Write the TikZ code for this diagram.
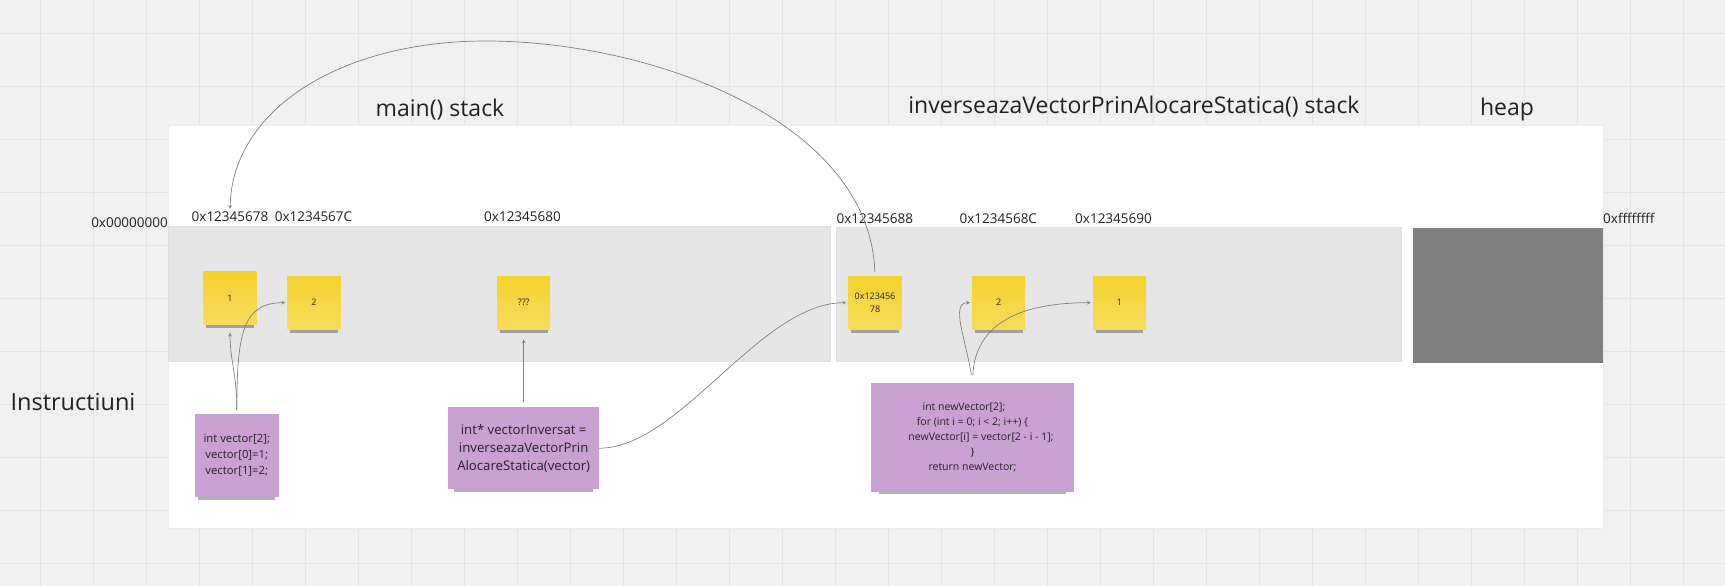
\documentclass[tikz,border=0pt]{standalone}
\usepackage{fontspec}
\setmainfont{Open Sans}
\usetikzlibrary{shadows}
\definecolor{bgc}{HTML}{F1F1F1}
\definecolor{gridc}{HTML}{E4E4E4}
\definecolor{stackc}{HTML}{E6E6E6}
\definecolor{heapc}{HTML}{808080}
\definecolor{yelc}{HTML}{F5D12C}
\definecolor{yelc2}{HTML}{F6DC5E}
\definecolor{purc}{HTML}{C9A2D3}
\definecolor{txtc}{HTML}{222222}
\definecolor{connc}{HTML}{808080}
\begin{document}
\begin{tikzpicture}[x=1pt,y=-1pt,>=stealth]
\tikzstyle{every node}=[text=txtc]
\tikzstyle{sticky}=[rectangle,minimum size=53pt,inner sep=1pt,align=center,top color=yelc,bottom color=yelc2,font=\fontsize{9}{12.5}\selectfont,drop shadow={shadow scale=0.9,shadow yshift=-7pt,shadow xshift=0pt,opacity=0.3,fill=black}]
\tikzstyle{note}=[rectangle,inner sep=2pt,align=center,fill=purc,drop shadow={shadow scale=0.92,shadow yshift=-7pt,shadow xshift=0pt,opacity=0.3,fill=black}]
\tikzstyle{addr}=[inner sep=0pt,font=\fontsize{13.5}{16}\selectfont]
\tikzstyle{title}=[inner sep=0pt,font=\fontsize{23}{28}\selectfont]
\tikzstyle{conn}=[draw=connc,line width=0.7pt]
\useasboundingbox (0,0) rectangle (1725,586);
\fill[bgc] (0,0) rectangle (1725,586);
\foreach \i in {0,...,32} \draw[gridc,line width=1pt] ({40.7+53*\i},0) -- ({40.7+53*\i},586);
\foreach \j in {0,...,10} \draw[gridc,line width=1pt] (0,{33.7+53*\j}) -- (1725,{33.7+53*\j});
\draw[black!8,fill=white] (168,125.5) rectangle (1603,528.5);
\draw[black!12,fill=stackc] (168.5,226) rectangle (830.5,361.5);
\draw[black!12,fill=stackc] (836.5,227.5) rectangle (1401.5,361.5);
\fill[heapc] (1412.5,228) rectangle (1603,363);
\node[title](tmain) at (440,110) {main() stack};
\node[title](tinv) at (1134,107) {inverseazaVectorPrinAlocareStatica() stack};
\node[title](theap) at (1507,110) {heap};
\node[inner sep=0pt,font=\fontsize{23.5}{28}\selectfont](instr) at (73,402) {Instructiuni};
\node[addr,anchor=east](a0) at (168,223) {0x00000000};
\node[addr](a1) at (230,217) {0x12345678};
\node[addr](a2) at (313.5,217) {0x1234567C};
\node[addr](a3) at (522.5,217) {0x12345680};
\node[addr](a4) at (874.8,219) {0x12345688};
\node[addr](a5) at (998.3,219) {0x1234568C};
\node[addr](a6) at (1113.5,219) {0x12345690};
\node[addr,anchor=west](a7) at (1603,218) {0xffffffff};
\node[sticky](s1) at (230,298) {1};
\node[sticky](s2) at (314,302.7) {2};
\node[sticky](s3) at (523.7,302.7) {???};
\node[sticky](s4) at (875,302.7) {0x123456\\78};
\node[sticky](s5) at (998.7,302.7) {2};
\node[sticky](s6) at (1119.5,302.7) {1};
\node[note,minimum width=84pt,minimum height=83pt,font=\fontsize{11.3}{16}\selectfont](p1) at (236.8,455.7) {int vector[2];\\vector[0]=1;\\vector[1]=2;};
\node[note,minimum width=151pt,minimum height=82pt,font=\fontsize{13.2}{18}\selectfont](p2) at (523.7,448.2) {int* vectorInversat =\\inverseazaVectorPrin\\AlocareStatica(vector)};
\node[note,minimum width=203pt,minimum height=109pt,font=\fontsize{10.5}{15}\selectfont](p3) at (972.5,437.2) {int newVector[2];\hspace*{17pt}\\for (int i = 0; i < 2; i++) \{\\\hspace*{17pt}newVector[i] = vector[2 - i - 1];\\\}\\return newVector;};
\coordinate (top) at (486,41);
\draw[conn,->,shorten <=4pt,shorten >=8pt] (p1.north) .. controls (237,375) and (230,360) .. (s1.south);
\draw[conn,->,shorten <=4pt,shorten >=2pt] (p1.north) .. controls (237,335) and (242,302.7) .. (s2.west);
\draw[conn,->,shorten <=5.5pt,shorten >=10pt] (p2.north) -- (s3.south);
\draw[conn,->,shorten >=2pt] (p2.east) .. controls (680,448) and (760,302.7) .. (s4.west);
\draw[conn,->,shorten <=3.5pt,shorten >=3pt] (s4.north) .. controls (870,120) and (650,41) .. (top) .. controls (340,41) and (232,110) .. (a1.north);
\draw[conn,->,shorten <=7.5pt,shorten >=2pt] (p3.north) .. controls (966,340) and (950,302.7) .. (s5.west);
\draw[conn,->,shorten <=7.5pt,shorten >=2pt] (p3.north) .. controls (975,330) and (1010,302.7) .. (s6.west);
\end{tikzpicture}
\end{document}
